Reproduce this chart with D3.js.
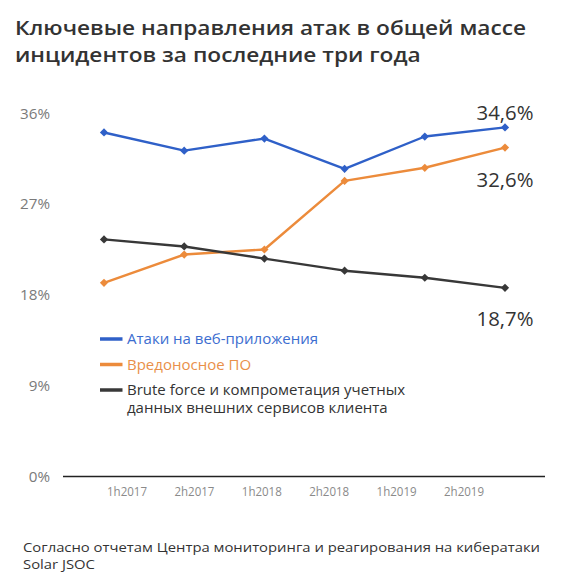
<!DOCTYPE html>
<html>
<head>
<meta charset="utf-8">
<script src="https://cdn.jsdelivr.net/npm/d3@7"></script>
<style>
  body { margin: 0; background: #fff; }
  svg text { font-family: "Open Sans", "Noto Sans", sans-serif; }
</style>
</head>
<body>
<svg id="chart" width="564" height="585"></svg>
<script>
// ----------------------
// data
// ----------------------
const periods = ["1h2017", "2h2017", "1h2018", "2h2018", "1h2019", "2h2019"];
const webAttacks = [34.1, 32.3, 33.5, 30.5, 33.7, 34.6];
const malware    = [19.2, 22.0, 22.5, 29.3, 30.6, 32.6];
const bruteForce = [23.5, 22.8, 21.6, 20.4, 19.7, 18.7];
const yTicks = [0, 9, 18, 27, 36];
const seriesNames = [
    "Атаки на веб-приложения",
    "Вредоносное ПО",
    "Brute force и компрометация учетных\nданных внешних сервисов клиента"
];
const endLabels = ["34,6%", "32,6%", "18,7%"];
const titleLines = ["Ключевые направления атак в общей массе", "инцидентов за последние три года"];
const sourceLines = ["Согласно отчетам Центра мониторинга и реагирования на кибератаки", "Solar JSOC"];

const colors = ["#2f60c8", "#ec8b3b", "#383838"];
const legendColors = ["#3c6dd0", "#e9904a", "#333"];

// ----------------------
// layout
// ----------------------
const svg = d3.select("#chart");

// shrink/grow font so a reference string gets a given width
function fitFont(sel, width) {
    const w = sel.node().getComputedTextLength();
    const fs = parseFloat(sel.attr("font-size"));
    const nfs = fs * width / w;
    sel.attr("font-size", nfs);
    return nfs;
}

// stretch glyphs to the wide look of the original font
function stretch(sel, ratio) {
    const w = sel.node().getComputedTextLength();
    sel.attr("textLength", w * ratio).attr("lengthAdjust", "spacingAndGlyphs");
}

// title (19px, stretched to match width)
const t1 = svg.append("text").attr("x", 15).attr("y", 28).attr("dy", "0.35em")
    .attr("font-size", 19).attr("font-weight", 600).attr("fill", "#333").text(titleLines[0]);
const titleRatio = 511 / t1.node().getComputedTextLength();
stretch(t1, titleRatio);
const t2 = svg.append("text").attr("x", 15).attr("y", 55).attr("dy", "0.35em")
    .attr("font-size", 19).attr("font-weight", 600).attr("fill", "#333").text(titleLines[1]);
stretch(t2, titleRatio);

// scales
const x = d3.scalePoint().domain(periods).range([104, 505]);
const xLab = d3.scalePoint().domain(periods).range([127, 464]);
const y = d3.scaleLinear().domain([0, 36]).range([476.5, 113.3]);

// y labels
const yLab = svg.append("g");
yLab.selectAll("text").data(yTicks).join("text")
    .attr("x", 50).attr("y", d => y(d)).attr("dy", "0.35em")
    .attr("text-anchor", "end").attr("font-size", 13).attr("fill", "#7a7a7a")
    .text(d => d + "%");
const yFs = fitFont(yLab.select("text:last-child"), 30);
yLab.selectAll("text").attr("font-size", yFs);

// x axis line
svg.append("line").attr("x1", 63).attr("x2", 545)
    .attr("y1", y(0)).attr("y2", y(0))
    .attr("stroke", "#222").attr("stroke-width", 1.3);

// x labels
const xg = svg.append("g");
xg.selectAll("text").data(periods).join("text")
    .attr("x", d => xLab(d)).attr("y", 492).attr("dy", "0.35em")
    .attr("text-anchor", "middle").attr("font-size", 12.5).attr("fill", "#8a8a8a")
    .text(d => d);
xg.selectAll("text").each(function () { stretch(d3.select(this), 40 / this.getComputedTextLength()); });

// lines
const series = [webAttacks, malware, bruteForce];
const line = d3.line().x((d, i) => x(periods[i])).y(d => y(d));
const diamond = d3.symbol().type(d3.symbolSquare).size(34);

series.forEach((vals, k) => {
    svg.append("path").datum(vals)
        .attr("d", line)
        .attr("fill", "none")
        .attr("stroke", colors[k])
        .attr("stroke-width", 2.4)
        .attr("stroke-linejoin", "round");
    svg.append("g").selectAll("path").data(vals).join("path")
        .attr("d", diamond)
        .attr("transform", (d, i) => `translate(${x(periods[i])},${y(d)}) rotate(45)`)
        .attr("fill", colors[k]);
});

// end labels
const endY = [113, 180, 319];
const endG = svg.append("g");
endG.selectAll("text").data(endLabels).join("text")
    .attr("x", x(periods[5])).attr("y", (d, i) => endY[i]).attr("dy", "0.35em")
    .attr("text-anchor", "middle").attr("font-size", 19).attr("fill", "#333")
    .text(d => d);
const endFs = fitFont(endG.select("text"), 57);
endG.selectAll("text").attr("font-size", endFs);

// legend
const legY = [339, 364.5, 390];
const leg = svg.append("g");
seriesNames.forEach((name, k) => {
    leg.append("line")
        .attr("x1", 100).attr("x2", 122.5)
        .attr("y1", legY[k]).attr("y2", legY[k])
        .attr("stroke", colors[k]).attr("stroke-width", 3.5);
    const t = leg.append("text").attr("class", "legtext")
        .attr("x", 127).attr("y", legY[k])
        .attr("font-size", 13).attr("fill", legendColors[k]);
    name.split("\n").forEach((ln, j) => {
        t.append("tspan").attr("x", 127).attr("dy", j === 0 ? "0.35em" : "1.2em").text(ln);
    });
});
const legFs = fitFont(leg.select("text.legtext"), 191);
leg.selectAll("text.legtext").attr("font-size", legFs);

// source (12px, stretched)
const s1 = svg.append("text").attr("x", 23).attr("y", 548).attr("dy", "0.35em")
    .attr("font-size", 12).attr("fill", "#333").text(sourceLines[0]);
const srcRatio = 517 / s1.node().getComputedTextLength();
stretch(s1, srcRatio);
const s2 = svg.append("text").attr("x", 23).attr("y", 565).attr("dy", "0.35em")
    .attr("font-size", 12).attr("fill", "#333").text(sourceLines[1]);
stretch(s2, srcRatio);
</script>
</body>
</html>
